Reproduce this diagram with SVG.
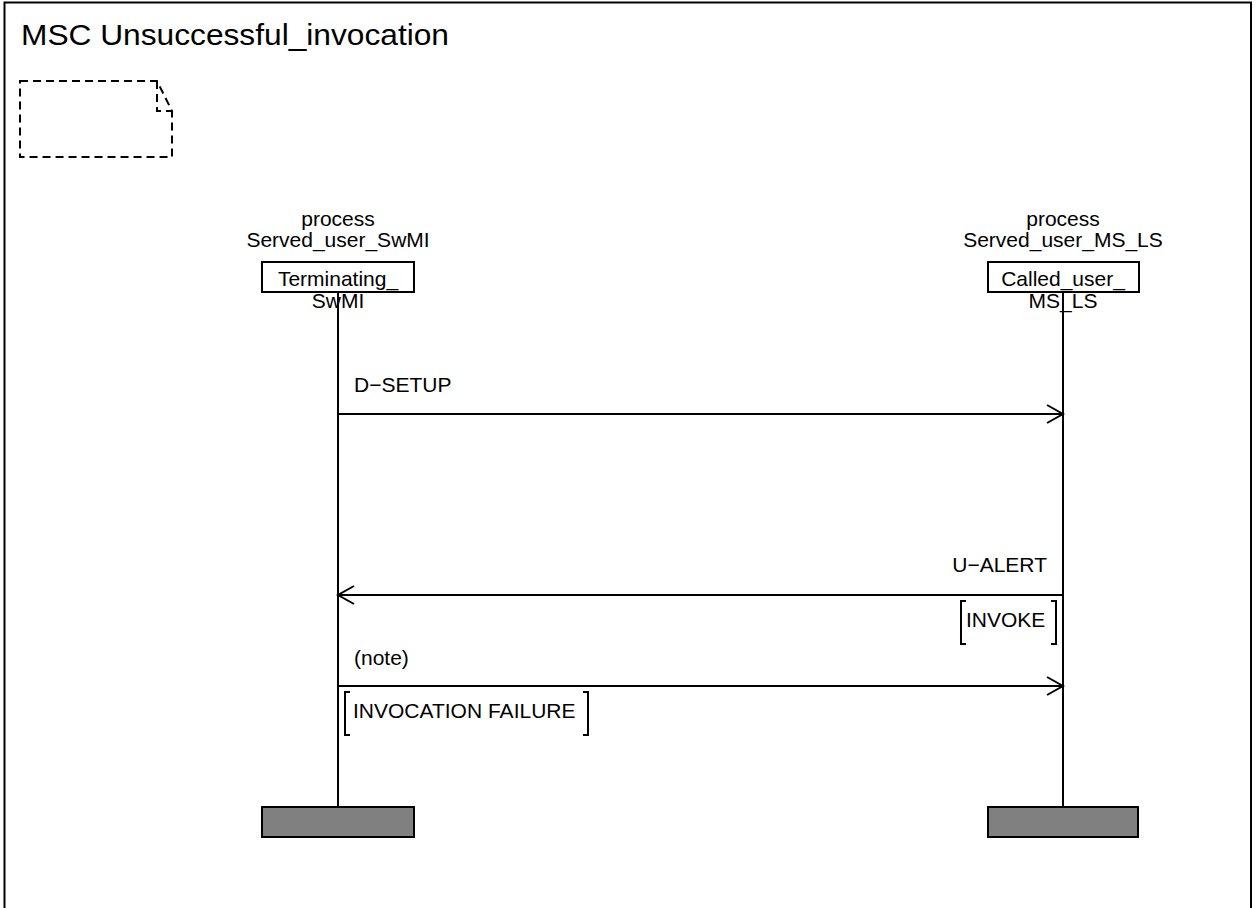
<svg xmlns="http://www.w3.org/2000/svg" width="1256" height="908" viewBox="0 0 1256 908">
<defs>
<style>
text{font-family:"Liberation Sans",Arial,sans-serif;fill:#000}
.t{font-size:21px}
.line{stroke:#000;stroke-width:2;fill:none}
.box{fill:#fff;stroke:#000;stroke-width:2}
.end{fill:#808080;stroke:#000;stroke-width:2}
.dash{fill:none;stroke:#000;stroke-width:2;stroke-dasharray:8,5}
</style>
<marker id="arr" markerWidth="20" markerHeight="20" refX="17" refY="10" orient="auto" markerUnits="userSpaceOnUse">
<path d="M1,1 L17,10 L1,19" fill="none" stroke="#000" stroke-width="2"/>
</marker>
</defs>
<rect x="0" y="0" width="1256" height="908" fill="#fff"/>
<g id="frame">
<path d="M4.5,920 L4.5,2.5 L1251,2.5 L1251,920" class="line"/>
<text x="21" y="45" style="font-size:29px" textLength="428" lengthAdjust="spacingAndGlyphs">MSC Unsuccessful_invocation</text>
</g>
<g id="comment">
<path d="M20,81 L157,81 L172,111 L172,157 L20,157 Z" class="dash"/>
<path d="M157,81 L157,111 L172,111" class="dash"/>
</g>
<g id="lifeline-swmi">
<text x="338" y="226" class="t" text-anchor="middle">process</text>
<text x="338" y="247" class="t" text-anchor="middle">Served_user_SwMI</text>
<line x1="338" y1="292" x2="338" y2="807" class="line"/>
<rect x="262" y="262" width="152" height="30" class="box"/>
<text x="338" y="286" class="t" text-anchor="middle">Terminating_</text>
<text x="338" y="308" class="t" text-anchor="middle">SwMI</text>
<rect x="262" y="807" width="152" height="30" class="end"/>
</g>
<g id="lifeline-msls">
<text x="1063" y="226" class="t" text-anchor="middle">process</text>
<text x="1063" y="247" class="t" text-anchor="middle">Served_user_MS_LS</text>
<line x1="1063" y1="292" x2="1063" y2="807" class="line"/>
<rect x="988" y="262" width="151" height="30" class="box"/>
<text x="1063" y="286" class="t" text-anchor="middle">Called_user_</text>
<text x="1063" y="308" class="t" text-anchor="middle">MS_LS</text>
<rect x="988" y="807" width="150" height="30" class="end"/>
</g>
<g id="connectors">
<line x1="338" y1="414" x2="1063" y2="414" class="line" marker-end="url(#arr)"/>
<text x="354" y="392" class="t">D−SETUP</text>
<line x1="1063" y1="595" x2="338" y2="595" class="line" marker-end="url(#arr)"/>
<text x="1047" y="572" class="t" text-anchor="end">U−ALERT</text>
<path d="M966,601 L961,601 L961,644 L966,644" class="line"/>
<text x="966" y="627" class="t">INVOKE</text>
<path d="M1051,601 L1056,601 L1056,644 L1051,644" class="line"/>
<line x1="338" y1="686" x2="1063" y2="686" class="line" marker-end="url(#arr)"/>
<text x="354" y="665" class="t">(note)</text>
<path d="M350,692 L345,692 L345,735 L350,735" class="line"/>
<text x="353" y="718" class="t">INVOCATION FAILURE</text>
<path d="M583,692 L588,692 L588,735 L583,735" class="line"/>
</g>
</svg>
